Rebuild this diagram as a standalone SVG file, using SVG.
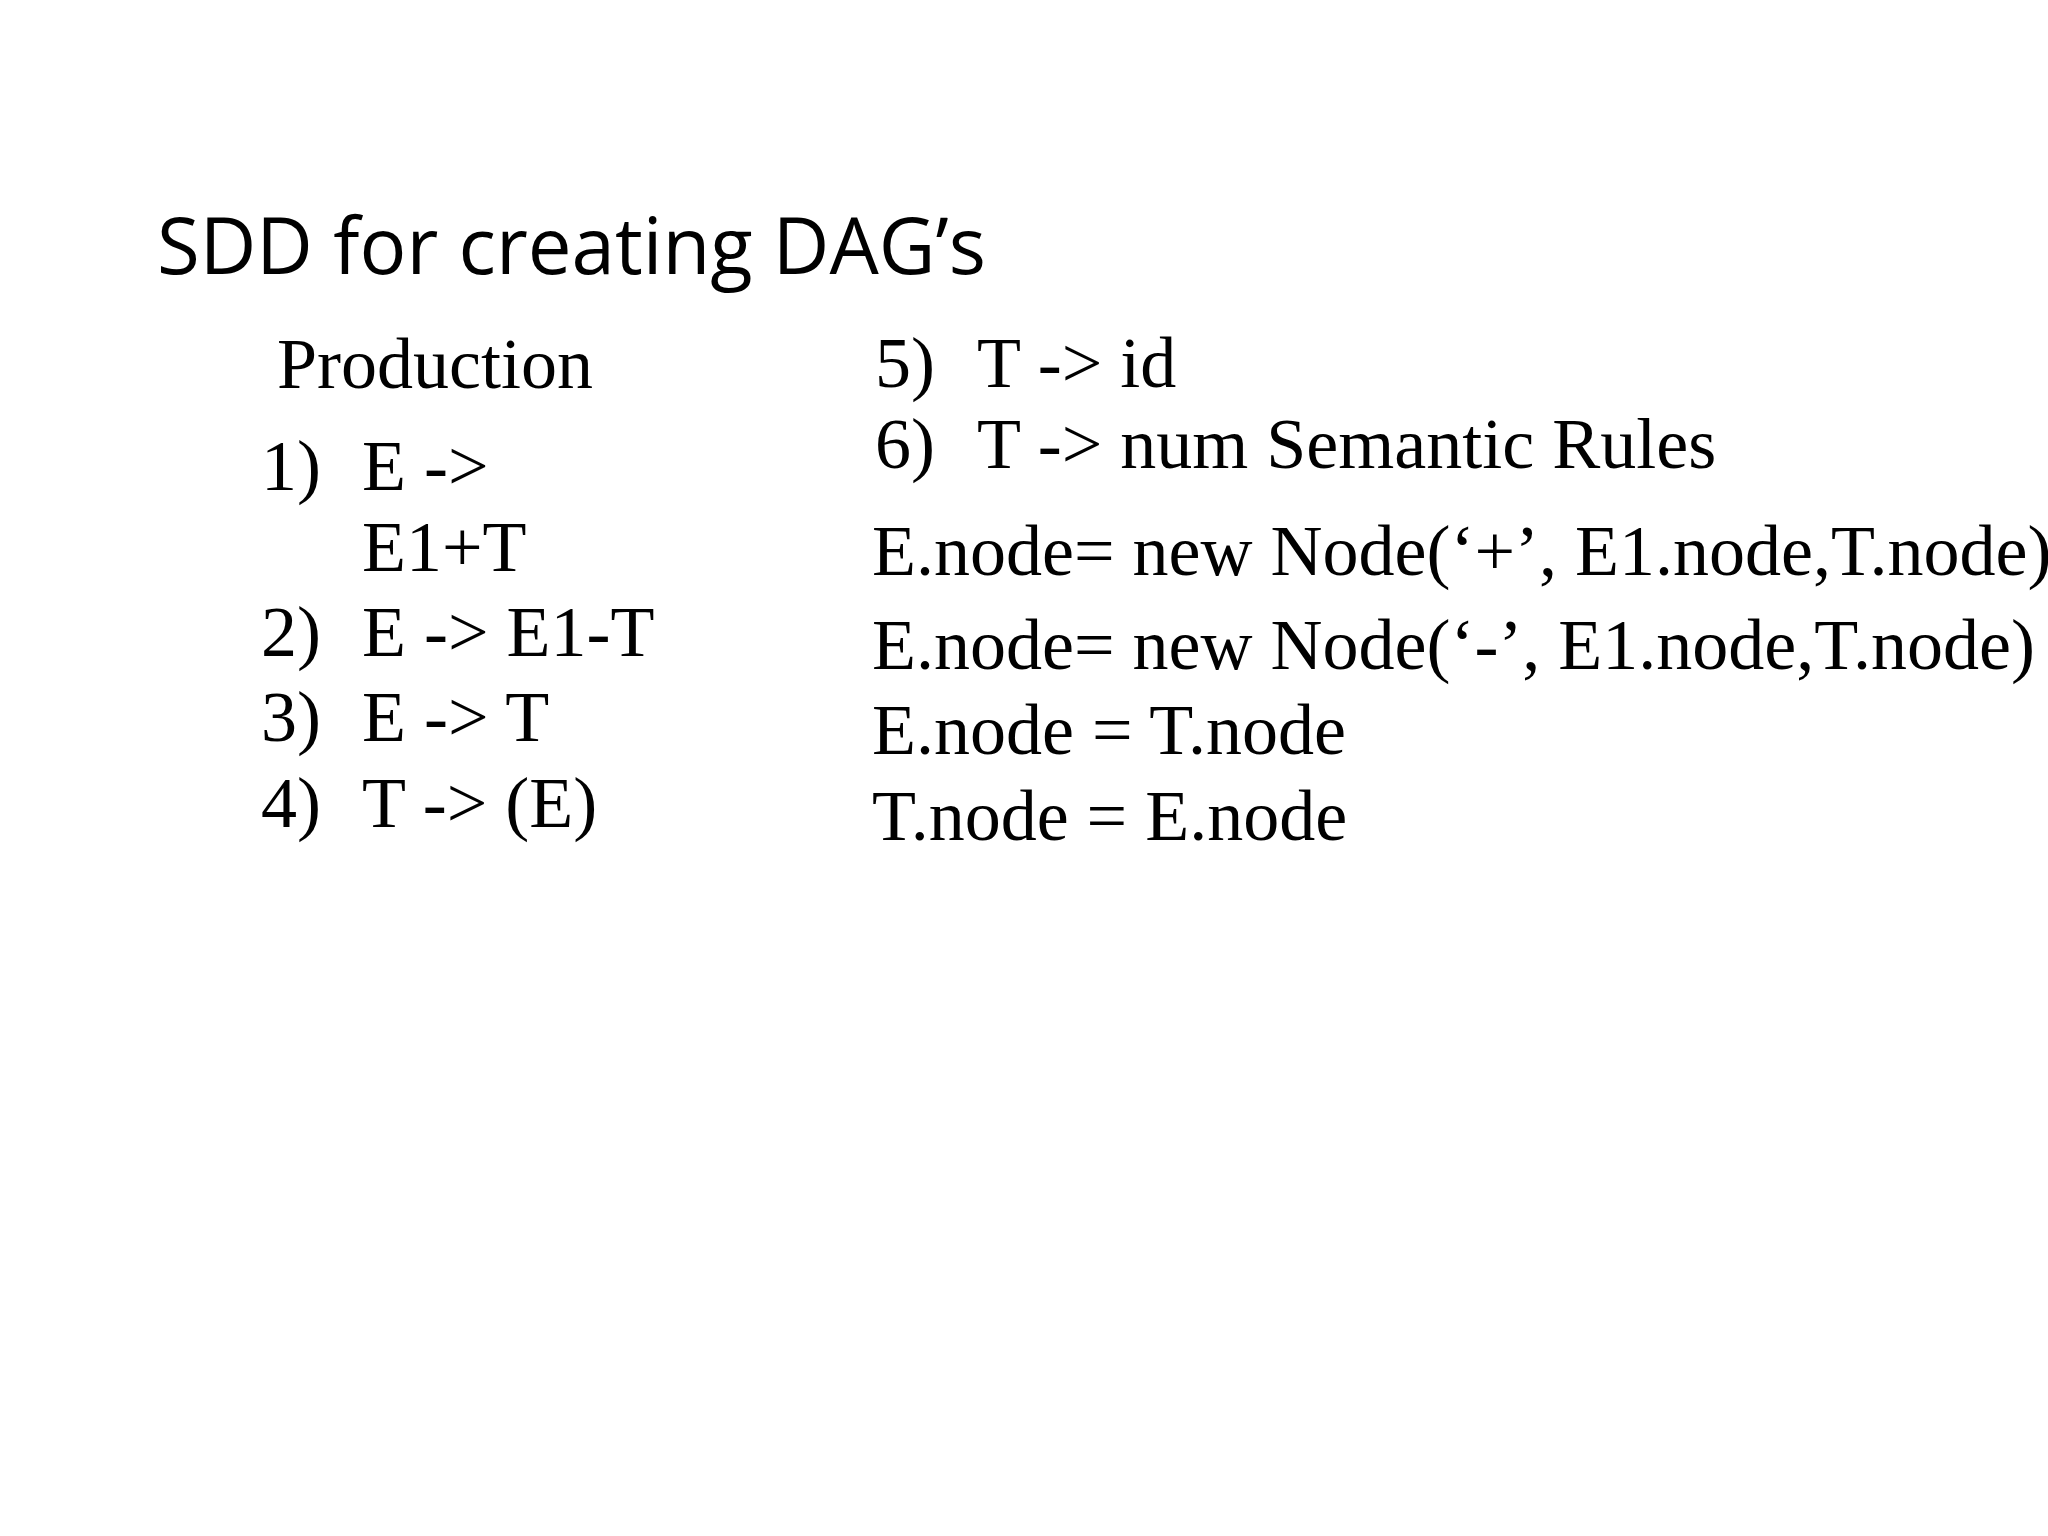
<svg xmlns="http://www.w3.org/2000/svg" width="2048" height="1536" viewBox="0 0 2048 1536">
<style>
.t{font-family:"Liberation Serif","Times New Roman",serif;font-size:72px;fill:#000}
.h{font-family:"Open Sans","Noto Sans",sans-serif;font-size:78px;fill:#000}
</style>
<rect width="2048" height="1536" fill="#fff"/>
<text class="h" x="157" y="274">SDD for creating DAG’s</text>
<g id="productions">
<text class="t" x="277" y="388">Production</text>
<text class="t" x="261" y="490">1)</text><text class="t" x="362" y="490">E -&gt;</text>
<text class="t" x="362" y="571">E1+T</text>
<text class="t" x="261" y="656">2)</text><text class="t" x="362" y="656">E -&gt; E1-T</text>
<text class="t" x="261" y="741">3)</text><text class="t" x="362" y="741">E -&gt; T</text>
<text class="t" x="261" y="827">4)</text><text class="t" x="362" y="827">T -&gt; (E)</text>
<text class="t" x="875" y="387">5)</text><text class="t" x="977" y="387">T -&gt; id</text>
<text class="t" x="875" y="468">6)</text><text class="t" x="977" y="468">T -&gt; num Semantic Rules</text>
</g>
<g id="rules">
<text class="t" x="872" y="575">E.node= new Node(‘+’, E1.node,T.node)</text>
<text class="t" x="872" y="669">E.node= new Node(‘-’, E1.node,T.node)</text>
<text class="t" x="872" y="754">E.node = T.node</text>
<text class="t" x="872" y="840">T.node = E.node</text>
</g>
<g id="connectors"/>
</svg>
